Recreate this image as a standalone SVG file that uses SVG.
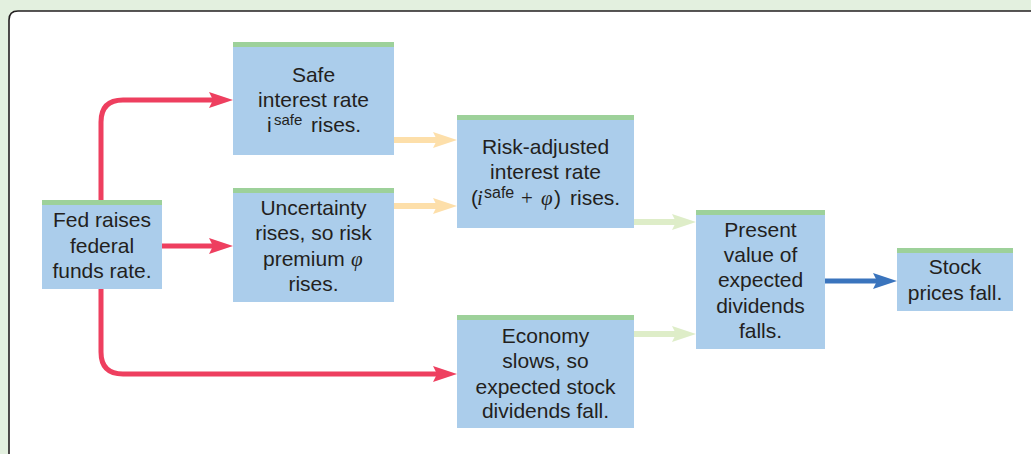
<svg xmlns="http://www.w3.org/2000/svg" width="1031" height="454" viewBox="0 0 1031 454">
<defs>
<style>
.box{fill:#abcdeb}
.strip{fill:#9dd19a}
.t{font-family:"Liberation Sans",Arial,sans-serif;font-size:21px;fill:#231f20;text-anchor:middle}
.ts{font-family:"Liberation Sans",Arial,sans-serif;font-size:21px;fill:#231f20}
.m{font-family:"Liberation Serif","Times New Roman",serif;font-style:italic}
.red{fill:none;stroke:#ee3f5f;stroke-width:5}
.orange{fill:none;stroke:#fddfaa;stroke-width:6}
.lg{fill:none;stroke:#deedc8;stroke-width:6}
.blue{fill:none;stroke:#3a74bd;stroke-width:5}
</style>
<marker id="hRed" viewBox="0 0 24 16" refX="4" refY="8" markerWidth="24" markerHeight="16" markerUnits="userSpaceOnUse" orient="auto"><path d="M0,0 L24,8 L0,16 L4,8 Z" fill="#ee3f5f"/></marker>
<marker id="hOrange" viewBox="0 0 24 16" refX="4" refY="8" markerWidth="24" markerHeight="16" markerUnits="userSpaceOnUse" orient="auto"><path d="M0,0 L24,8 L0,16 L4,8 Z" fill="#fddfaa"/></marker>
<marker id="hLg" viewBox="0 0 24 16" refX="4" refY="8" markerWidth="24" markerHeight="16" markerUnits="userSpaceOnUse" orient="auto"><path d="M0,0 L24,8 L0,16 L4,8 Z" fill="#deedc8"/></marker>
<marker id="hBlue" viewBox="0 0 24 16" refX="4" refY="8" markerWidth="24" markerHeight="16" markerUnits="userSpaceOnUse" orient="auto"><path d="M0,0 L24,8 L0,16 L4,8 Z" fill="#3a74bd"/></marker>
</defs>
<rect x="0" y="0" width="1031" height="454" fill="#e3f0df"/>
<path d="M9,455 V20 Q9,11 18,11 H1032 V455 Z" fill="#ffffff" stroke="#231f20" stroke-width="1.6"/>

<g id="connectors">
<path class="red" d="M101,200 V122 Q101,100 123,100 H213" marker-end="url(#hRed)"/>
<path class="red" d="M162,246 H213" marker-end="url(#hRed)"/>
<path class="red" d="M101,289 V352 Q101,374 123,374 H437" marker-end="url(#hRed)"/>
<path class="orange" d="M394,140 H437" marker-end="url(#hOrange)"/>
<path class="orange" d="M394,206 H437" marker-end="url(#hOrange)"/>
<path class="lg" d="M634,222 H676" marker-end="url(#hLg)"/>
<path class="lg" d="M634,334 H676" marker-end="url(#hLg)"/>
<path class="blue" d="M825,281 H877" marker-end="url(#hBlue)"/>
</g>

<g id="fed">
<rect class="box" x="42" y="200" width="120" height="89"/>
<rect class="strip" x="42" y="200" width="120" height="5"/>
<text class="t" x="102" y="227">Fed raises</text>
<text class="t" x="102" y="253">federal</text>
<text class="t" x="102" y="278">funds rate.</text>
</g>

<g id="safe">
<rect class="box" x="233" y="42" width="161" height="113"/>
<rect class="strip" x="233" y="42" width="161" height="5"/>
<text class="t" x="313.5" y="82">Safe</text>
<text class="t" x="313.5" y="107">interest rate</text>
<text class="ts" x="267" y="132">i<tspan x="274" y="125" font-size="15">safe</tspan><tspan x="311" y="132">rises.</tspan></text>
</g>

<g id="uncertainty">
<rect class="box" x="233" y="188" width="161" height="114"/>
<rect class="strip" x="233" y="188" width="161" height="5"/>
<text class="t" x="313.5" y="215">Uncertainty</text>
<text class="t" x="313.5" y="240">rises, so risk</text>
<text class="ts" x="263" y="266">premium<tspan class="m" x="351" y="266">φ</tspan></text>
<text class="t" x="313.5" y="291">rises.</text>
</g>

<g id="riskadjusted">
<rect class="box" x="457" y="115" width="177" height="113"/>
<rect class="strip" x="457" y="115" width="177" height="5"/>
<text class="t" x="545.5" y="154">Risk-adjusted</text>
<text class="t" x="545.5" y="179">interest rate</text>
<text class="ts" x="471" y="205">(<tspan class="m" x="477">i</tspan><tspan x="484" y="198" font-size="16">safe</tspan><tspan x="521" y="205" font-family="Liberation Serif">+</tspan><tspan class="m" x="541">φ</tspan><tspan x="554">)</tspan><tspan x="570">rises.</tspan></text>
</g>

<g id="economy">
<rect class="box" x="457" y="315" width="177" height="113"/>
<rect class="strip" x="457" y="315" width="177" height="5"/>
<text class="t" x="545.5" y="343">Economy</text>
<text class="t" x="545.5" y="368">slows, so</text>
<text class="t" x="545.5" y="394">expected stock</text>
<text class="t" x="545.5" y="418">dividends fall.</text>
</g>

<g id="presentvalue">
<rect class="box" x="696" y="210" width="129" height="139"/>
<rect class="strip" x="696" y="210" width="129" height="5"/>
<text class="t" x="760.5" y="237">Present</text>
<text class="t" x="760.5" y="262">value of</text>
<text class="t" x="760.5" y="287">expected</text>
<text class="t" x="760.5" y="313">dividends</text>
<text class="t" x="760.5" y="338">falls.</text>
</g>

<g id="stock">
<rect class="box" x="897" y="248" width="116" height="63"/>
<rect class="strip" x="897" y="248" width="116" height="5"/>
<text class="t" x="955" y="274">Stock</text>
<text class="t" x="955" y="300">prices fall.</text>
</g>
</svg>
